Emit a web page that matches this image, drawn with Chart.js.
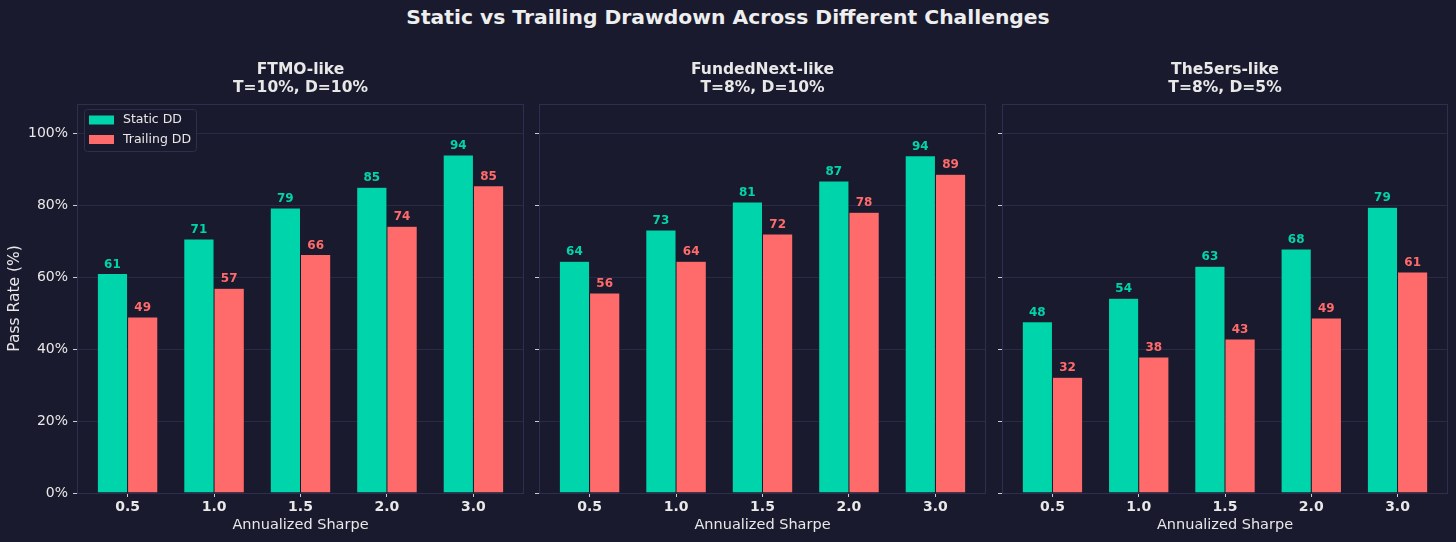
<!DOCTYPE html>
<html>
<head>
<meta charset="utf-8">
<script src="https://cdn.jsdelivr.net/npm/chart.js@4.4.1/dist/chart.umd.min.js"></script>
<style>
  html, body { margin: 0; padding: 0; background: #1a1a2e; }
  body { width: 1456px; height: 542px; position: relative; overflow: hidden; font-family: "DejaVu Sans", sans-serif; }
  #title { position: absolute; left: 0; width: 1456px; top: 5px; text-align: center; color: #eeeeee; font: bold 20.3px "DejaVu Sans"; line-height: 24px; }
  canvas { position: absolute; top: 0; }
</style>
</head>
<body>
<div id="title">Static vs Trailing Drawdown Across Different Challenges</div>
<canvas id="c0"></canvas>
<canvas id="c1"></canvas>
<canvas id="c2"></canvas>
<script>
// ---- data ----
const categories = ['0.5', '1.0', '1.5', '2.0', '3.0'];
const seriesNames = ['Static DD', 'Trailing DD'];
const panelTitles = [
  ['FTMO-like', 'T=10%, D=10%'],
  ['FundedNext-like', 'T=8%, D=10%'],
  ['The5ers-like', 'T=8%, D=5%']
];
const ftmoStatic = [61.0, 70.6, 79.2, 85.0, 93.9];
const ftmoTrailing = [48.9, 56.9, 66.3, 74.1, 85.4];
const fundedNextStatic = [64.4, 73.1, 80.9, 86.7, 93.7];
const fundedNextTrailing = [55.6, 64.4, 72.0, 78.0, 88.6];
const the5ersStatic = [47.6, 54.1, 63.0, 67.8, 79.4];
const the5ersTrailing = [32.2, 37.8, 42.8, 48.6, 61.4];
const yTicks = [0, 20, 40, 60, 80, 100];

const panelData = [
  [ftmoStatic, ftmoTrailing],
  [fundedNextStatic, fundedNextTrailing],
  [the5ersStatic, the5ersTrailing]
];

// ---- styling / layout ----
const BG = '#1a1a2e';
const COLORS = ['#00d4aa', '#ff6b6b'];
const SPINE = '#2e2e50';
const GRID = '#2a2a46';
const TEXT = '#e8e8e8';
const FONT = '"DejaVu Sans", sans-serif';
const H = 542, TOP = 104, BOTTOM = 493;
const panels = [
  { left: 77, right: 524, yw: 77 },
  { left: 539, right: 986, yw: 8 },
  { left: 1002, right: 1448, yw: 8 }
];

const spinePlugin = {
  id: 'spines',
  afterDatasetsDraw(chart) {
    const a = chart.chartArea, ctx = chart.ctx;
    ctx.save();
    ctx.strokeStyle = SPINE; ctx.lineWidth = 1;
    ctx.strokeRect(a.left + 0.5, a.top + 0.5, a.right - a.left - 1, a.bottom - a.top);
    ctx.restore();
  }
};

const valueLabelPlugin = {
  id: 'valueLabels',
  afterDatasetsDraw(chart) {
    const ctx = chart.ctx;
    ctx.save();
    ctx.font = 'bold 12px ' + FONT;
    ctx.textAlign = 'center';
    ctx.textBaseline = 'bottom';
    chart.data.datasets.forEach((ds, di) => {
      const meta = chart.getDatasetMeta(di);
      ctx.fillStyle = ds.backgroundColor;
      meta.data.forEach((el, i) => {
        ctx.fillText(String(Math.round(ds.data[i].y)), el.x, el.y - 3);
      });
    });
    ctx.restore();
  }
};

const subTitlePlugin = {
  id: 'subTitle',
  afterDraw(chart, args, opts) {
    const a = chart.chartArea, ctx = chart.ctx;
    const cx = (a.left + a.right) / 2;
    ctx.save();
    ctx.font = 'bold 15.5px ' + FONT;
    ctx.fillStyle = TEXT;
    ctx.textAlign = 'center';
    ctx.textBaseline = 'middle';
    ctx.fillText(opts.lines[0], cx, 70);
    ctx.fillText(opts.lines[1], cx, 88);
    ctx.restore();
  }
};

const boxLegendPlugin = {
  id: 'boxLegend',
  afterDatasetsDraw(chart, args, opts) {
    if (!opts.show) return;
    const a = chart.chartArea, ctx = chart.ctx;
    const x = a.left + 7, y = a.top + 5, w = 112, h = 42;
    ctx.save();
    ctx.fillStyle = 'rgba(26,26,46,0.9)';
    ctx.strokeStyle = SPINE; ctx.lineWidth = 1;
    ctx.beginPath();
    if (ctx.roundRect) ctx.roundRect(x + 0.5, y + 0.5, w, h, 3); else ctx.rect(x + 0.5, y + 0.5, w, h);
    ctx.fill(); ctx.stroke();
    ctx.font = '12.5px ' + FONT;
    ctx.textBaseline = 'middle';
    ctx.textAlign = 'left';
    chart.data.datasets.forEach((ds, i) => {
      const cy = y + 11 + i * 19.5;
      ctx.fillStyle = ds.backgroundColor;
      ctx.fillRect(x + 5, cy - 4.5, 25, 9);
      ctx.fillStyle = TEXT;
      ctx.fillText(ds.label, x + 39, cy);
    });
    ctx.restore();
  }
};

panels.forEach((p, k) => {
  const canvas = document.getElementById('c' + k);
  const w = p.yw + (p.right - p.left) + 2;
  canvas.width = w; canvas.height = H;
  canvas.style.left = (p.left - p.yw) + 'px';
  canvas.style.width = w + 'px'; canvas.style.height = H + 'px';

  const datasets = panelData[k].map((vals, si) => ({
    label: seriesNames[si],
    data: vals.map((v, i) => ({ x: i, y: v })),
    backgroundColor: COLORS[si],
    borderColor: BG,
    borderWidth: 0.5,
    borderSkipped: 'bottom',
    categoryPercentage: 0.7,
    barPercentage: 1.0
  }));

  new Chart(canvas, {
    type: 'bar',
    data: { datasets },
    plugins: [spinePlugin, valueLabelPlugin, subTitlePlugin, boxLegendPlugin],
    options: {
      responsive: false,
      animation: false,
      devicePixelRatio: 1,
      layout: { padding: { top: TOP, right: 2, bottom: 0, left: 0 } },
      plugins: {
        legend: { display: false },
        tooltip: { enabled: false },
        subTitle: { lines: panelTitles[k] },
        boxLegend: { show: k === 0 }
      },
      scales: {
        x: {
          type: 'linear',
          min: -0.585, max: 4.585,
          offset: false,
          afterBuildTicks: (axis) => { axis.ticks = categories.map((c, i) => ({ value: i })); },
          afterFit: (axis) => { axis.height = H - BOTTOM; },
          ticks: {
            callback: (v) => categories[v],
            color: TEXT,
            font: { family: FONT, size: 14, weight: 'bold' },
            padding: 2,
            maxRotation: 0, autoSkip: false
          },
          grid: { drawOnChartArea: false, drawTicks: true, tickLength: 4, tickColor: '#cccccc', offset: false },
          border: { display: false },
          title: {
            display: true, text: 'Annualized Sharpe', color: TEXT,
            font: { family: FONT, size: 14.5 },
            padding: { top: 0, bottom: 8 }
          }
        },
        y: {
          min: 0, max: 108.1,
          afterBuildTicks: (axis) => { axis.ticks = yTicks.map(v => ({ value: v })); },
          afterFit: (axis) => { axis.width = p.yw; },
          ticks: {
            display: k === 0,
            callback: (v) => v + '%',
            color: TEXT,
            font: { family: FONT, size: 14 },
            padding: 5
          },
          grid: { color: GRID, lineWidth: 1, drawTicks: true, tickLength: 4, tickColor: '#cccccc' },
          border: { display: false },
          title: {
            display: k === 0, text: 'Pass Rate (%)', color: TEXT,
            font: { family: FONT, size: 15.5 },
            padding: { top: 6, bottom: 0 }
          }
        }
      }
    }
  });
});
</script>
</body>
</html>
